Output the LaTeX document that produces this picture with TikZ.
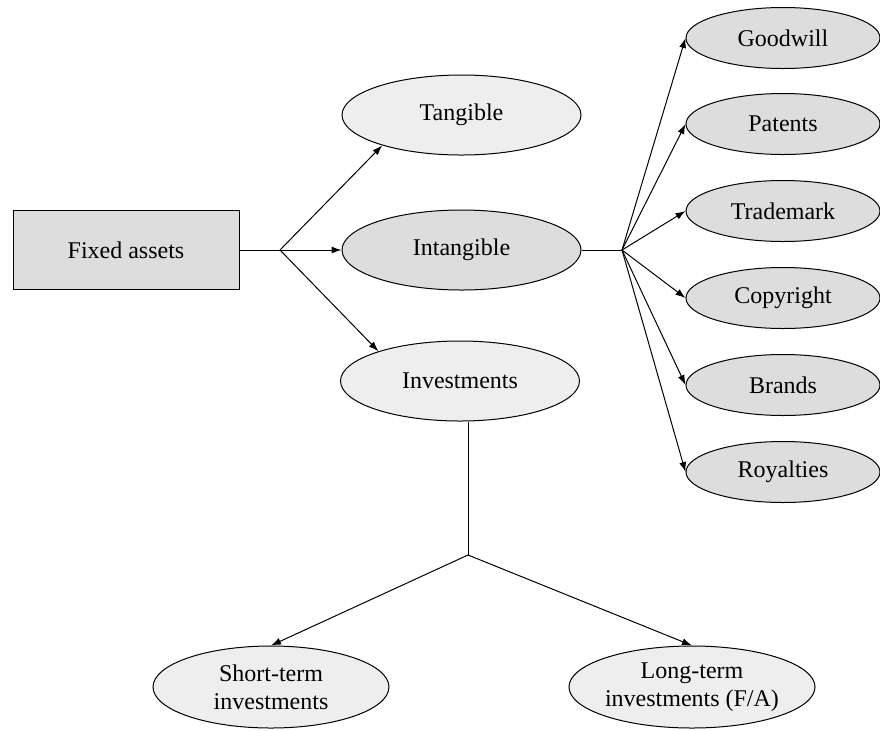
\documentclass[tikz,border=0pt]{standalone}
\usepackage{fontspec}
\setmainfont{Liberation Serif}
\usetikzlibrary{arrows.meta, shapes.geometric}
\definecolor{palefill}{HTML}{EEEEEE}
\definecolor{darkfill}{HTML}{DDDDDD}
\tikzset{
  rootbox/.style={rectangle, draw=black, fill=darkfill, line width=0.5pt,
                  minimum width=113pt, minimum height=39.5pt, inner sep=0pt,
                  font=\fontsize{12}{14}\selectfont},
  oval/.style={ellipse, draw=black, fill=#1, line width=0.5pt, inner sep=0pt,
               align=center, font=\fontsize{12}{14}\selectfont},
  oval/.default=palefill,
  bigoval/.style={oval=#1, minimum width=119.5pt, minimum height=40pt},
  bigoval/.default=palefill,
  smalloval/.style={oval=darkfill, minimum width=97pt, minimum height=30.5pt},
  arr/.style={-{Latex[length=5pt, width=3.5pt]}, line width=0.5pt},
  link/.style={line width=0.5pt},
}
\begin{document}
\begin{tikzpicture}[x=0.5pt, y=-0.5pt]
  \useasboundingbox (0,0) rectangle (880,730);
  %% Fixed assets and first split
  \node[rootbox] (fixed) at (126,250) {Fixed assets};
  \node[bigoval]          (tang)   at (461.5,115) {Tangible};
  \node[bigoval=darkfill] (intang) at (461.5,250) {Intangible};
  \node[bigoval]          (invest) at (460,381)   {Investments};
  \coordinate (fj) at (280,250);
  \draw[link] (fixed.east) -- (fj);
  \draw[arr] (fj) -- (tang.201);
  \draw[arr] (fj) -- (intang.west);
  \draw[arr] (fj) -- (invest.160);
  %% Intangible items
  \foreach \n/\t/\y in {good/Goodwill/38, pat/Patents/124, trade/Trademark/211,
                        copy/Copyright/298, brand/Brands/385, roy/Royalties/472}
    \node[smalloval] (\n) at (783,\y) {\t};
  \coordinate (ij) at (622,250);
  \draw[link] (intang.east) -- (ij);
  \foreach \n in {good,pat,trade,copy,brand,roy}
    \draw[arr] (ij) -- (\n.west);
  %% Investments split
  \node[oval, minimum width=118pt, minimum height=41pt] (short) at (271,687)
    {Short-term\\investments};
  \node[oval, minimum width=121pt, minimum height=41pt] (long) at (692,687)
    {Long-term\\investments (F/A)};
  \coordinate (vj) at (468,555);
  \draw[link] (invest.south -| vj) -- (vj);
  \draw[arr] (vj) -- (short.north);
  \draw[arr] (vj) -- (long.north);
\end{tikzpicture}
\end{document}
